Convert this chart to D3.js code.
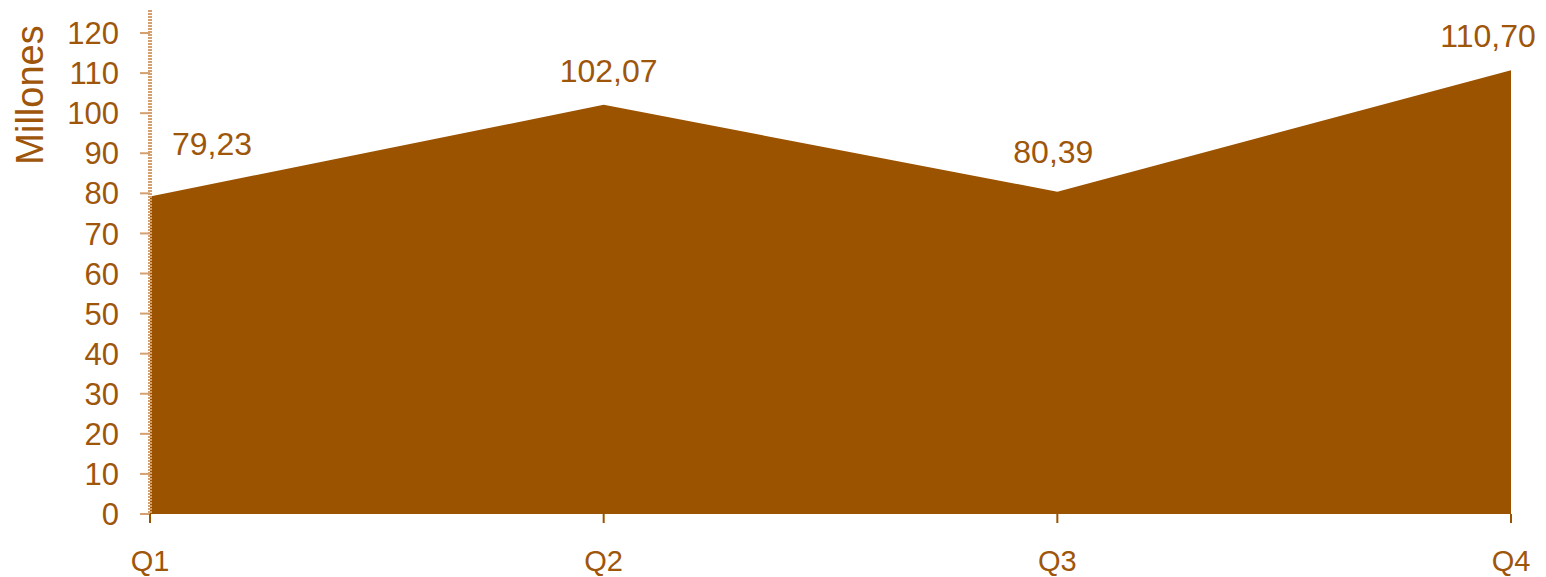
<!DOCTYPE html>
<html>
<head>
<meta charset="utf-8">
<script src="https://cdn.jsdelivr.net/npm/d3@7"></script>
<style>
  html, body { margin: 0; padding: 0; background: #fff; }
  #chart { width: 1546px; height: 577px; }
  text { font-family: "Liberation Sans", Arial, sans-serif; fill: #9e560b; }
</style>
</head>
<body>
<div id="chart"></div>
<script>
// data +++++++++++++++++++++++++++++++++++++++++
const quarters = ["Q1", "Q2", "Q3", "Q4"];
const values = [79.23, 102.07, 80.39, 110.70];
const labels = ["79,23", "102,07", "80,39", "110,70"];
const yTicks = [0, 10, 20, 30, 40, 50, 60, 70, 80, 90, 100, 110, 120];
// data -----------------------------------------

const width = 1546;
const height = 577;
const fillColor = "#9c5300";
const axisColor = "#d4a070";

const svg = d3.select("#chart")
  .append("svg")
  .attr("width", width)
  .attr("height", height);

// scales
const x = d3.scalePoint().domain(quarters).range([150, 1511]);
const y = d3.scaleLinear().domain([0, 120]).range([514, 33]);

const points = quarters.map((q, i) => ({ q, v: values[i], label: labels[i] }));

// area
const area = d3.area()
  .x(d => x(d.q))
  .y0(y(0))
  .y1(d => y(d.v));

svg.append("path")
  .datum(points)
  .attr("d", area)
  .attr("fill", fillColor);

// y axis (dotted tan line + short ticks on the left)
const yAxis = svg.append("g").attr("transform", "translate(150,0)");
yAxis.append("line")
  .attr("x1", 0).attr("x2", 0)
  .attr("y1", 10).attr("y2", y(0))
  .attr("stroke", axisColor)
  .attr("stroke-width", 4)
  .attr("stroke-dasharray", "2,1");

yAxis.selectAll(".tick")
  .data(yTicks)
  .enter()
  .append("line")
  .attr("x1", -10).attr("x2", 0)
  .attr("y1", d => y(d)).attr("y2", d => y(d))
  .attr("stroke", axisColor)
  .attr("stroke-width", 2);

yAxis.selectAll(".tlabel")
  .data(yTicks)
  .enter()
  .append("text")
  .attr("x", -31)
  .attr("y", d => y(d))
  .attr("dy", "0.36em")
  .attr("text-anchor", "end")
  .attr("font-size", "31px")
  .text(d => d);

// y title
svg.append("text")
  .attr("transform", "translate(43,95) rotate(-90)")
  .attr("text-anchor", "middle")
  .attr("font-size", "38px")
  .text("Millones");

// x axis ticks + labels
svg.selectAll(".xtick")
  .data(quarters)
  .enter()
  .append("line")
  .attr("x1", d => x(d)).attr("x2", d => x(d))
  .attr("y1", y(0)).attr("y2", y(0) + 9)
  .attr("stroke", fillColor)
  .attr("stroke-width", 2);

svg.selectAll(".xlabel")
  .data(quarters)
  .enter()
  .append("text")
  .attr("x", d => x(d))
  .attr("y", 571)
  .attr("text-anchor", "middle")
  .attr("font-size", "29px")
  .text(d => d);

// data labels (Excel-like placement around each point)
const labelShift = [[62, -41], [5, -23], [-4, -29], [-23, -23]];
svg.selectAll(".dlabel")
  .data(points)
  .enter()
  .append("text")
  .attr("x", (d, i) => x(d.q) + labelShift[i][0])
  .attr("y", (d, i) => y(d.v) + labelShift[i][1])
  .attr("text-anchor", "middle")
  .attr("font-size", "32px")
  .text(d => d.label);
</script>
</body>
</html>
